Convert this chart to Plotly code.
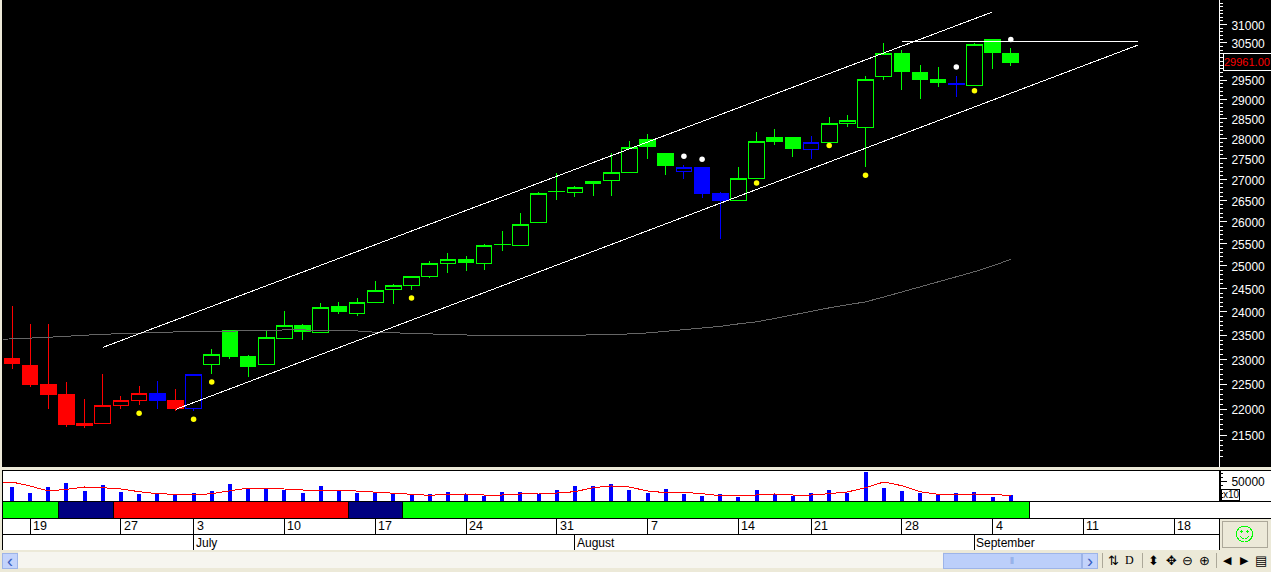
import plotly.graph_objects as go

W, H = 1271, 572

# ---------- data ----------
high = [24120,23740,23740,22545,22205,22705,22260,22460,22565,22400,22705,23215,23610,23090,23590,24015,23740,24185,24205,24295,24665,24600,24775,25110,25290,25220,25490,25785,26205,26700,27155,26845,26945,27645,27950,28120,27645,27345,27280,26700,27305,28170,28245,28020,28070,28545,28595,29605,30490,30300,29900,29845,29610,30490,30590,30355]
open_ = [23010,22885,22500,22300,21685,21730,22070,22170,22320,22165,22010,22890,23610,23050,22890,23430,23710,23555,24100,23970,24195,24475,24560,24760,25050,25145,25050,25480,25450,25980,26710,26685,26945,26970,27175,27990,27645,27200,27280,26675,26505,27030,28020,28020,27735,27900,28380,28285,29590,30210,29715,29505,29395,29350,30590,30210]
close = [22925,22500,22300,21695,21730,22080,22180,22315,22165,22025,22695,23105,23050,22845,23460,23710,23575,24095,23995,24205,24460,24570,24770,25060,25145,25070,25460,25490,25940,26670,26720,26815,26900,27175,27790,27815,27350,27280,26675,26510,27030,27935,27920,27745,27910,28385,28465,29520,30210,29720,29505,29430,29405,30455,30230,29961]
low = [22805,22440,22005,21660,21645,21730,22005,22085,22005,21965,21965,22700,23010,22645,22885,23425,23405,23550,23950,23910,24185,24165,24465,24740,24845,24885,24910,25335,25445,25975,26520,26585,26615,26615,27170,27500,27110,27010,26560,25605,26500,27030,27845,27545,27500,27890,28295,27310,29505,29245,29010,29320,29060,29345,29795,29870]
candle_group = list("rrrrrrrrbrb" + "g"*26 + "bbb" + "g"*4 + "b" + "g"*7 + "b" + "ggg")

volume = [35800,20800,35800,45800,25800,40800,23300,18300,20800,15800,20800,25800,43300,30800,30800,28300,20800,38300,25800,20800,23300,18300,15800,18300,23300,18300,13300,23300,23300,18300,28300,38300,38300,43300,28300,20800,30800,18300,13300,18300,10800,28300,18300,13300,20800,28300,20800,73300,33300,25800,20800,15800,20800,23300,10800,15800]
volume_ma = [45000,47500,37500,25000,29200,35000,33300,30000,23300,18300,16700,15000,18300,25800,32500,32500,30000,25800,25000,27500,25000,20800,20000,16700,14200,16700,17500,15000,15000,17500,20000,20000,23300,33300,37500,35000,25000,20800,21700,18300,13300,12500,15000,17500,15000,15000,18300,22500,33300,47500,38300,23300,16700,15000,17500,16700,13300]
long_ma = [23417,23423,23438,23458,23479,23506,23521,23534,23549,23564,23570,23570,23581,23591,23591,23602,23612,23612,23606,23591,23591,23564,23549,23538,23521,23517,23506,23500,23496,23485,23479,23485,23500,23506,23517,23528,23549,23581,23612,23655,23687,23740,23782,23856,23931,24015,24081,24147,24210,24315,24425,24533,24645,24755,24870,25000,25145]
ma_index = [-0.5] + list(range(56))

yellow_index = [7, 10, 11, 22, 41, 45, 47, 53]
yellow_price = [21920, 21805, 22543, 24293, 26915, 27830, 27100, 29225]
white_index = [37, 38, 52, 55]
white_price = [27565, 27490, 29845, 30590]

upper_index = [5.02, 53.95]
upper_price = [23250, 31340]
lower_index = [9.03, 62.0]
lower_price = [22000, 30437]
flat_index = [49, 62]
flat_price = [30538, 30538]

band_start = [-0.5, 2.55, 5.6, 18.55, 21.5]
band_end = [2.55, 5.6, 18.55, 21.5, 56.05]
band_color = ["#00ff00", "#000080", "#ff0000", "#000080", "#00ff00"]

day_index = [1, 6, 10, 15, 20, 25, 30, 35, 40, 44, 49, 54, 59, 64]
day_label = ["19", "27", "3", "10", "17", "24", "31", "7", "14", "21", "28", "4", "11", "18"]
month_index = [10, 31, 53]
month_label = ["July", "August", "September"]

price_ticks = [21500 + 500 * k for k in range(21)]
price_tick_text = [f"{v}" if v not in (30000, 31500) else "" for v in price_ticks]

# ---------- layout helpers ----------
FONT = "Liberation Sans"
BEIGE = "#ece9d8"
X0, X1 = 2, 1219
LEFT_I = (X0 - 12) / 18.16
RIGHT_I = (X1 - 12) / 18.16


def px(x):
    return x / W


def py(y):
    return 1 - y / H


def rect(x0, y0, x1, y1, fill, line=None, layer="below", lw=1):
    return dict(type="rect", xref="paper", yref="paper", x0=px(x0), x1=px(x1), y0=py(y0), y1=py(y1),
                fillcolor=fill, line=dict(color=line or fill, width=lw if line else 0), layer=layer)


def hline(x0, x1, y, color="#000000"):
    return dict(type="line", xref="paper", yref="paper", x0=px(x0), x1=px(x1), y0=py(y), y1=py(y),
                line=dict(color=color, width=1))


def vline(x, y0, y1, color="#000000"):
    return dict(type="line", xref="paper", yref="paper", x0=px(x), x1=px(x), y0=py(y0), y1=py(y1),
                line=dict(color=color, width=1))


def circle(cx, cy, r, color, fill="rgba(0,0,0,0)"):
    return dict(type="circle", xref="paper", yref="paper", x0=px(cx - r), x1=px(cx + r),
                y0=py(cy + r), y1=py(cy - r), fillcolor=fill, line=dict(color=color, width=1))


def label(x, y, text, color="#000000", size=12, anchor="left", family=FONT):
    return dict(xref="paper", yref="paper", x=px(x), y=py(y), text=text, showarrow=False,
                xanchor=anchor, yanchor="middle", font=dict(family=family, size=size, color=color),
                borderpad=0, borderwidth=0)


fig = go.Figure()

# long moving average under the candles
fig.add_trace(go.Scatter(x=ma_index, y=long_ma, mode="lines", line=dict(color="#666666", width=1),
                         showlegend=False, hoverinfo="skip"))

# candles: one trace per colour, hollow when rising and filled when falling
for key, col in (("r", "#ff0000"), ("b", "#0000ff"), ("g", "#00ff00")):
    idx = [i for i, g in enumerate(candle_group) if g == key]
    fig.add_trace(go.Candlestick(
        x=idx,
        open=[open_[i] for i in idx], high=[high[i] for i in idx],
        low=[low[i] for i in idx], close=[close[i] for i in idx],
        increasing=dict(line=dict(color=col, width=1), fillcolor="#000000"),
        decreasing=dict(line=dict(color=col, width=1), fillcolor=col),
        whiskerwidth=0, showlegend=False,
    ))

for xs, ys in ((upper_index, upper_price), (lower_index, lower_price), (flat_index, flat_price)):
    fig.add_trace(go.Scatter(x=xs, y=ys, mode="lines", line=dict(color="#ffffff", width=1),
                             showlegend=False, hoverinfo="skip"))

fig.add_trace(go.Scatter(x=yellow_index, y=yellow_price, mode="markers",
                         marker=dict(color="#ffff00", size=5.5), showlegend=False))
fig.add_trace(go.Scatter(x=white_index, y=white_price, mode="markers",
                         marker=dict(color="#ffffff", size=5.5), showlegend=False))

# volume pane
fig.add_trace(go.Bar(x=list(range(56)), y=volume, width=0.22, marker=dict(color="#0000ff", line=dict(width=0)),
                     yaxis="y2", showlegend=False))
fig.add_trace(go.Scatter(x=ma_index, y=volume_ma, mode="lines", line=dict(color="#ff0000", width=1),
                         yaxis="y2", showlegend=False, hoverinfo="skip"))

# state band
fig.add_trace(go.Bar(x=[(a + b) / 2 for a, b in zip(band_start, band_end)],
                     y=[1] * len(band_start), width=[b - a for a, b in zip(band_start, band_end)],
                     marker=dict(color=band_color, line=dict(color="#000000", width=1)),
                     yaxis="y3", showlegend=False, hoverinfo="skip"))

shapes = [
    rect(X1, 0, W, 467, "#000000"),
    rect(X1, 470, W, 518, "#ffffff"),
    rect(X0, 518, X1, 550, "#ffffff"),
    rect(1222, 521, 1267, 547, BEIGE, line="#aca899"),
    hline(X0, W, 470), hline(X0, W, 501), hline(X0, W, 518), hline(X0, X1, 534),
    vline(X0, 470, 550), vline(1220, 470, 501), vline(X1, 518, 550),
    rect(1221, 489, 1239, 500, "#ffffff", line="#000000"),
    rect(1223, 53, 1271, 70, "#000000", line="#ffffff", layer="above"),
    # scroll bar and toolbar
    rect(18, 552, 943, 568, "#f6f5ef"),
    rect(2, 553, 17, 568, "#c3d3fb", line="#9db4e8"),
    rect(943, 553, 1081, 568, "#bccffa", line="#9db4e8"),
    rect(1082, 553, 1097, 568, "#c3d3fb", line="#9db4e8"),
    vline(1102, 553, 568, "#aca899"), vline(1142, 553, 568, "#aca899"), vline(1216, 553, 568, "#aca899"),
    # smiley
    circle(1244.5, 534, 8, "#00ff00"),
    circle(1241.5, 531.5, 0.7, "#00ff00", "#00ff00"),
    circle(1247.5, 531.5, 0.7, "#00ff00", "#00ff00"),
    dict(type="path", xref="paper", yref="paper", line=dict(color="#00ff00", width=1),
         path=(f"M {px(1240.5)} {py(536.5)} Q {px(1244.5)} {py(541.5)} {px(1248.5)} {py(536.5)}")),
]
for i in day_index:
    shapes.append(dict(type="line", xref="x", yref="paper", x0=i, x1=i, y0=py(518), y1=py(534),
                       line=dict(color="#000000", width=1)))
for i in month_index:
    shapes.append(dict(type="line", xref="x", yref="paper", x0=i, x1=i, y0=py(534), y1=py(550),
                       line=dict(color="#000000", width=1)))
shapes.append(rect(X0, 470, X1, 518, "#ffffff"))

annotations = [
    dict(xref="x", yref="paper", x=i, y=py(526), text=t, showarrow=False, xanchor="left", yanchor="middle",
         xshift=1, font=dict(family=FONT, size=12.5, color="#000000"))
    for i, t in zip(day_index, day_label)
] + [
    dict(xref="x", yref="paper", x=i, y=py(542.5), text=t, showarrow=False, xanchor="left", yanchor="middle",
         xshift=0, font=dict(family=FONT, size=12, color="#000000"))
    for i, t in zip(month_index, month_label)
] + [
    label(1224, 62, "29961.00", color="#ff0000", size=11),
    label(1222.5, 494.5, "x10", size=10),
    label(9.5, 560.5, "‹", color="#3a5fc0", size=18, anchor="center"),
    label(1089.5, 560.5, "›", color="#3a5fc0", size=18, anchor="center"),
    label(1012, 560.5, "⦀", color="#7f9ce0", size=9, anchor="center", family="DejaVu Sans"),
    label(1113, 560, "⇅", size=13, anchor="center", family="DejaVu Sans"),
    label(1129, 560, "D", size=12, anchor="center", family="Liberation Serif"),
    label(1153, 560, "⬍", size=13, anchor="center", family="DejaVu Sans"),
    label(1171, 560, "✥", size=13, anchor="center", family="DejaVu Sans"),
    label(1187, 560, "⊖", size=13, anchor="center", family="DejaVu Sans"),
    label(1204, 560, "⊕", size=13, anchor="center", family="DejaVu Sans"),
    label(1227, 560, "◀", size=11, anchor="center", family="DejaVu Sans"),
    label(1244, 560, "▶", size=11, anchor="center", family="DejaVu Sans"),
    label(1261, 560, "▤", size=13, anchor="center", family="DejaVu Sans"),
]

fig.update_layout(
    width=W, height=H, margin=dict(l=0, r=0, t=0, b=0, pad=0, autoexpand=False),
    paper_bgcolor=BEIGE, plot_bgcolor="#000000", showlegend=False,
    boxgap=0.14, boxgroupgap=0, barmode="overlay",
    xaxis=dict(domain=[px(X0), px(X1)], range=[LEFT_I, RIGHT_I], type="linear", visible=False,
               rangeslider=dict(visible=False), fixedrange=True),
    yaxis=dict(domain=[py(467), 1], type="log", side="right", anchor="x",
               range=[4.32008, 4.50085], showgrid=False, zeroline=False,
               showline=True, linecolor="#ffffff", linewidth=1,
               tickmode="array", tickvals=price_ticks, ticktext=price_tick_text,
               ticks="outside", ticklen=7, tickcolor="#ffffff", tickwidth=1,
               tickfont=dict(family=FONT, size=12, color="#ffffff"), ticklabelstandoff=2, ticklabelshift=1,
               minor=dict(tickmode="array", tickvals=list(range(21100, 31800, 100)),
                          ticks="outside", ticklen=3, tickcolor="#ffffff", tickwidth=1, showgrid=False),
               fixedrange=True),
    yaxis2=dict(domain=[py(501), py(470)], side="right", anchor="x", range=[0, 77500],
                showgrid=False, zeroline=False, showline=True, linecolor="#000000", linewidth=1,
                tickmode="array", tickvals=[50000], ticktext=["50000"],
                ticks="outside", ticklen=7, tickcolor="#000000", tickwidth=1,
                tickfont=dict(family=FONT, size=12, color="#000000"), ticklabelstandoff=2, ticklabelshift=1,
                minor=dict(tickmode="array", tickvals=list(range(0, 80000, 10000)),
                           ticks="outside", ticklen=3, tickcolor="#000000", tickwidth=1, showgrid=False),
                fixedrange=True),
    yaxis3=dict(domain=[py(518), py(501)], anchor="x", range=[0, 1], visible=False, fixedrange=True),
    shapes=shapes, annotations=annotations,
)

crisp = ("document.body.style.margin='0';document.body.style.overflow='hidden';"
         "var s=document.createElement('style');"
         "s.textContent='.js-plotly-plot .cartesianlayer path,.js-plotly-plot .shapelayer path{shape-rendering:crispEdges !important}"
         " .js-plotly-plot .scatterlayer .points path{shape-rendering:geometricPrecision !important}';"
         "document.head.appendChild(s);")
fig.write_html("out.html", config=dict(displayModeBar=False), post_script=crisp)
